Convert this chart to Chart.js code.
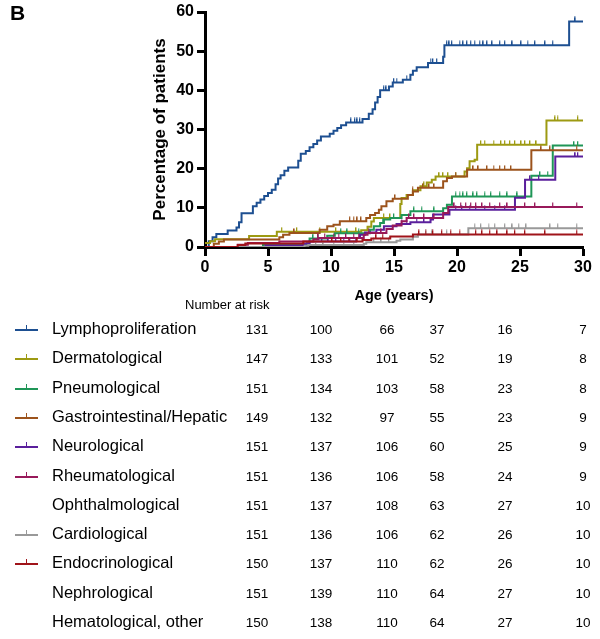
<!DOCTYPE html>
<html>
<head>
<meta charset="utf-8">
<script src="https://cdn.jsdelivr.net/npm/chart.js@4.4.1/dist/chart.umd.min.js"></script>
<style>
  body { margin: 0; background: #fff; font-family: "Liberation Sans", Arial, sans-serif; color: #000; }
  #wrap { position: relative; width: 600px; height: 639px; overflow: hidden; }
  #kmChart { position: absolute; left: 0; top: 0; }
  .panel { position: absolute; left: 10px; top: 1px; font-weight: bold; font-size: 21px; }
  .risk-title { position: absolute; left: 185px; top: 297px; font-size: 13px; }
  .row { position: absolute; left: 0; width: 600px; height: 20px; }
  .mark { position: absolute; left: 15px; top: 9px; width: 23px; height: 2px; }
  .mark span { position: absolute; left: 11px; top: -4px; width: 1px; height: 4px; }
  .name { position: absolute; left: 52px; top: -1px; font-size: 16.5px; white-space: nowrap; }
  .num { position: absolute; top: 2px; font-size: 13.5px; transform: translateX(-50%); }
</style>
</head>
<body>
<div id="wrap">
  <canvas id="kmChart" width="600" height="310"></canvas>
  <div class="panel">B</div>
  <div class="risk-title">Number at risk</div>
  <div id="riskTable"></div>
</div>
<script>
// Data ------------------------------------------------------------------

// categories of the number-at-risk table (top to bottom)
const categories = ['Lymphoproliferation', 'Dermatological', 'Pneumological', 'Gastrointestinal/Hepatic',
  'Neurological', 'Rheumatological', 'Ophthalmological', 'Cardiological', 'Endocrinological',
  'Nephrological', 'Hematological, other'];

// number at risk, one array per category
const riskLympho = [131, 100, 66, 37, 16, 7];
const riskDerm = [147, 133, 101, 52, 19, 8];
const riskPneumo = [151, 134, 103, 58, 23, 8];
const riskGastro = [149, 132, 97, 55, 23, 9];
const riskNeuro = [151, 137, 106, 60, 25, 9];
const riskRheum = [151, 136, 106, 58, 24, 9];
const riskOphth = [151, 137, 108, 63, 27, 10];
const riskCardio = [151, 136, 106, 62, 26, 10];
const riskEndo = [150, 137, 110, 62, 26, 10];
const riskNephro = [151, 139, 110, 64, 27, 10];
const riskHemato = [150, 138, 110, 64, 27, 10];

// cumulative incidence steps [age, percent]
const lymphoSteps = [[0,0],[0.3,1.5],[0.6,2.5],[0.9,3.3],[1.8,4.2],[2.5,5.0],[2.7,6.3],[2.9,8.6],[3.8,10.4],
  [4.1,11.3],[4.4,12.1],[4.7,13.0],[5.0,13.8],[5.3,14.6],[5.6,16.0],[5.8,17.5],[6.0,18.3],[6.3,19.5],
  [6.6,20.3],[7.4,22.0],[7.6,23.8],[8.0,24.5],[8.3,25.5],[8.6,26.3],[8.9,27.2],[9.2,28.2],[9.9,28.9],
  [10.2,29.7],[10.5,30.4],[10.8,31.1],[11.2,31.8],[12.5,32.7],[13.0,34.0],[13.3,35.2],[13.5,36.9],
  [13.7,38.3],[13.9,40.0],[14.6,41.0],[14.9,42.0],[15.7,42.7],[16.3,44.0],[16.5,45.0],[16.8,45.9],
  [17.7,47.0],[18.9,48.6],[19.0,51.5],[28.9,57.6],[30,57.6]];
const dermSteps = [[0,1.0],[0.4,1.5],[0.8,2.0],[3.5,2.8],[5.7,3.9],[12.4,4.3],[12.9,5.2],[13.2,6.5],
  [13.4,7.4],[15.5,11.0],[15.6,12.5],[16.0,13.3],[16.5,14.5],[17.1,15.5],[17.6,16.5],[18.0,17.2],
  [18.3,18.0],[20.6,19.3],[20.8,20.1],[21.0,21.9],[21.4,22.3],[21.6,26.1],[27.1,32.3],[30,32.3]];
const pneumoSteps = [[0,0],[4.6,0.6],[8.1,1.2],[8.3,2.2],[9.7,2.9],[10.3,3.5],[13.1,4.4],[13.4,5.3],
  [13.9,6.1],[14.2,7.0],[14.7,7.4],[15.6,8.2],[16.3,9.1],[18.9,9.9],[19.2,10.8],[19.6,12.9],
  [25.9,18.2],[27.6,25.9],[30,25.9]];
const gastroSteps = [[0,0],[0.7,0.8],[1.1,1.4],[1.5,1.9],[5.9,2.5],[6.2,3.1],[6.7,3.6],[9.1,4.4],
  [9.7,5.3],[10.2,5.7],[10.7,6.6],[12.8,7.4],[13.1,8.2],[13.5,8.7],[13.8,9.5],[14.0,10.4],
  [14.4,11.7],[14.9,12.3],[16.1,13.3],[16.5,14.2],[16.9,15.1],[18.9,16.8],[19.2,17.6],[19.6,18.0],
  [20.8,19.7],[25.9,24.7],[30,24.7]];
const neuroSteps = [[0,0],[4.8,0.4],[7.8,0.8],[8.3,1.4],[12.0,2.3],[12.3,3.1],[12.7,3.7],[13.6,4.4],
  [14.2,5.3],[15.2,5.9],[16.3,6.3],[17.9,7.0],[18.1,8.3],[19.4,9.5],[24.6,12.6],[25.4,17.2],
  [27.8,23.1],[30,23.1]];
const rheumSteps = [[0,0],[2.6,0.6],[3.4,1.0],[5.9,1.4],[8.6,2.0],[9.0,2.3],[12.6,3.1],[12.9,3.6],
  [14.4,4.6],[14.9,5.5],[15.6,6.6],[16.0,7.4],[18.9,8.7],[19.3,10.2],[30,10.2]];
const cardioSteps = [[0,0],[7.9,0.3],[8.2,0.5],[12.6,0.8],[12.8,1.2],[15.2,1.6],[15.5,1.9],[16.5,2.6],
  [16.9,3.2],[20.9,4.8],[30,4.8]];
const endoSteps = [[0,0],[2.6,0.5],[3.2,0.9],[7.8,1.4],[12.5,1.8],[13.2,2.2],[14.7,2.7],[16.5,3.2],[30,3.2]];

// censored ages (tick marks on the curves)
const lymphoCensored = [11.6, 11.9, 12.1, 12.3, 14.2, 14.4, 15.0, 15.2, 16.0, 17.9, 18.1, 18.4, 19.2, 19.4,
  19.6, 20.2, 20.5, 20.8, 21.1, 21.4, 21.8, 22.1, 22.4, 22.8, 23.4, 23.8, 24.4, 25.1, 25.6, 26.2, 27.0, 27.6, 29.4];
const dermCensored = [6.1, 7.3, 9.1, 10.4, 12.0, 14.2, 14.7, 17.4, 18.6, 18.9, 19.3, 19.9, 21.9, 22.2, 22.9,
  23.5, 23.8, 24.2, 24.6, 25.1, 25.4, 25.8, 26.3, 27.8, 28.0, 29.6];
const pneumoCensored = [8.6, 9.0, 10.8, 11.3, 12.2, 14.1, 15.0, 16.6, 17.2, 18.2, 19.9, 20.2, 20.5, 20.8,
  21.3, 21.6, 22.2, 22.7, 23.4, 24.0, 24.8, 26.6, 27.2, 29.3, 29.6];
const gastroCensored = [7.1, 11.5, 11.8, 12.1, 12.4, 15.1, 16.5, 17.3, 17.8, 18.2, 19.9, 21.3, 21.7, 22.4,
  22.9, 23.4, 23.8, 24.3, 26.7, 27.4, 29.5];
const neuroCensored = [9.3, 9.8, 10.4, 11.0, 11.5, 15.6, 16.0, 16.8, 17.4, 19.9, 20.4, 21.0, 21.5, 22.2,
  23.0, 23.8, 25.8, 26.5, 29.4, 29.6];
const rheumCensored = [9.0, 9.5, 10.2, 10.6, 11.2, 11.8, 12.2, 13.0, 14.0, 16.2, 16.6, 17.4, 18.2, 19.8,
  20.3, 20.7, 21.1, 21.5, 22.0, 22.6, 23.4, 24.0, 25.4, 26.2, 27.6, 29.5];
const cardioCensored = [8.8, 9.4, 10.2, 11.0, 11.8, 13.4, 14.0, 14.6, 17.5, 18.0, 19.2, 21.4, 21.9, 22.5,
  23.0, 23.8, 24.4, 24.9, 25.5, 27.4, 28.0, 29.5];
const endoCensored = [10.1, 10.8, 11.4, 12.1, 13.6, 14.1, 17.0, 17.5, 18.1, 18.8, 19.5, 20.2, 21.5, 22.0,
  22.6, 23.2, 24.0, 24.6, 25.4, 27.0, 29.5];

// Series setup ----------------------------------------------------------

const FONT = '"Liberation Sans", Arial, sans-serif';

const series = [
  { name: 'Lymphoproliferation', color: '#1d4f91', steps: lymphoSteps, censored: lymphoCensored, risk: riskLympho },
  { name: 'Dermatological', color: '#9d9a12', steps: dermSteps, censored: dermCensored, risk: riskDerm },
  { name: 'Pneumological', color: '#1f9657', steps: pneumoSteps, censored: pneumoCensored, risk: riskPneumo },
  { name: 'Gastrointestinal/Hepatic', color: '#9c531c', steps: gastroSteps, censored: gastroCensored, risk: riskGastro },
  { name: 'Neurological', color: '#5a1f9c', steps: neuroSteps, censored: neuroCensored, risk: riskNeuro },
  { name: 'Rheumatological', color: '#98195a', steps: rheumSteps, censored: rheumCensored, risk: riskRheum },
  { name: 'Ophthalmological', color: null, steps: null, censored: null, risk: riskOphth },
  { name: 'Cardiological', color: '#999999', steps: cardioSteps, censored: cardioCensored, risk: riskCardio },
  { name: 'Endocrinological', color: '#a0141a', steps: endoSteps, censored: endoCensored, risk: riskEndo },
  { name: 'Nephrological', color: null, steps: null, censored: null, risk: riskNephro },
  { name: 'Hematological, other', color: null, steps: null, censored: null, risk: riskHemato }
];

// value of a step curve at a given age
function stepValue(steps, t) {
  let v = steps[0][1];
  for (const [x, y] of steps) {
    if (x <= t) v = y;
  }
  return v;
}

// small upward tick used as the censor marker
function censorMark(color) {
  const c = document.createElement('canvas');
  c.width = 2;
  c.height = 10;
  const ctx = c.getContext('2d');
  ctx.fillStyle = color;
  ctx.fillRect(0, 0.5, 1.3, 4.5);
  return c;
}

const datasets = [];
// draw from bottom of list so blue ends on top
series.slice().reverse().forEach(s => {
  if (!s.steps) return;
  datasets.push({
    label: s.name,
    data: s.steps.map(p => ({ x: p[0], y: p[1] })),
    borderColor: s.color,
    borderWidth: 2,
    stepped: true,
    pointRadius: 0,
    fill: false
  });
  datasets.push({
    label: s.name + ' censored',
    data: s.censored.map(t => ({ x: t, y: stepValue(s.steps, t) })),
    showLine: false,
    pointStyle: censorMark(s.color),
    pointRadius: 3,
    borderColor: s.color,
    backgroundColor: s.color
  });
});

// config
const config = {
  type: 'line',
  data: { datasets },
  options: {
    responsive: false,
    animation: false,
    layout: { padding: { left: 150, right: 17, top: 12, bottom: 0 } },
    plugins: { legend: { display: false }, tooltip: { enabled: false } },
    scales: {
      x: {
        type: 'linear',
        min: 0,
        max: 30,
        ticks: { stepSize: 5, color: '#000', padding: 2, maxRotation: 0, font: { family: FONT, size: 16, weight: 'bold' } },
        grid: { drawOnChartArea: false, drawTicks: true, tickLength: 9, tickWidth: 3, color: '#000' },
        border: { display: true, width: 3, color: '#000' },
        title: { display: true, text: 'Age (years)', color: '#000', font: { family: FONT, size: 14.5, weight: 'bold' }, padding: { top: 0, bottom: 5 } },
        afterFit(scale) { scale.height = 63; scale.paddingLeft = 0; scale.paddingRight = 0; }
      },
      y: {
        min: 0,
        max: 60,
        ticks: { stepSize: 10, color: '#000', padding: 3, font: { family: FONT, size: 16, weight: 'bold' } },
        grid: { drawOnChartArea: false, drawTicks: true, tickLength: 8, tickWidth: 3, color: '#000' },
        border: { display: true, width: 3, color: '#000' },
        title: { display: true, text: 'Percentage of patients', color: '#000', font: { family: FONT, size: 17, weight: 'bold' }, padding: { top: 0, bottom: 0 } },
        afterFit(scale) { scale.width = 55; scale.paddingTop = 0; scale.paddingBottom = 0; }
      }
    }
  }
};

// render init block
const kmChart = new Chart(document.getElementById('kmChart'), config);

// Number at risk table ------------------------------------------------------

const riskColumns = [257, 321, 387, 437, 505, 583];
const table = document.getElementById('riskTable');
series.forEach((s, i) => {
  const row = document.createElement('div');
  row.className = 'row';
  row.style.top = (320 + i * 29.3) + 'px';
  let html = '';
  if (s.color) {
    html += '<div class="mark" style="background:' + s.color + '"><span style="background:' + s.color + '"></span></div>';
  }
  html += '<div class="name">' + s.name + '</div>';
  s.risk.forEach((n, j) => {
    html += '<div class="num" style="left:' + riskColumns[j] + 'px">' + n + '</div>';
  });
  row.innerHTML = html;
  table.appendChild(row);
});
</script>
</body>
</html>
